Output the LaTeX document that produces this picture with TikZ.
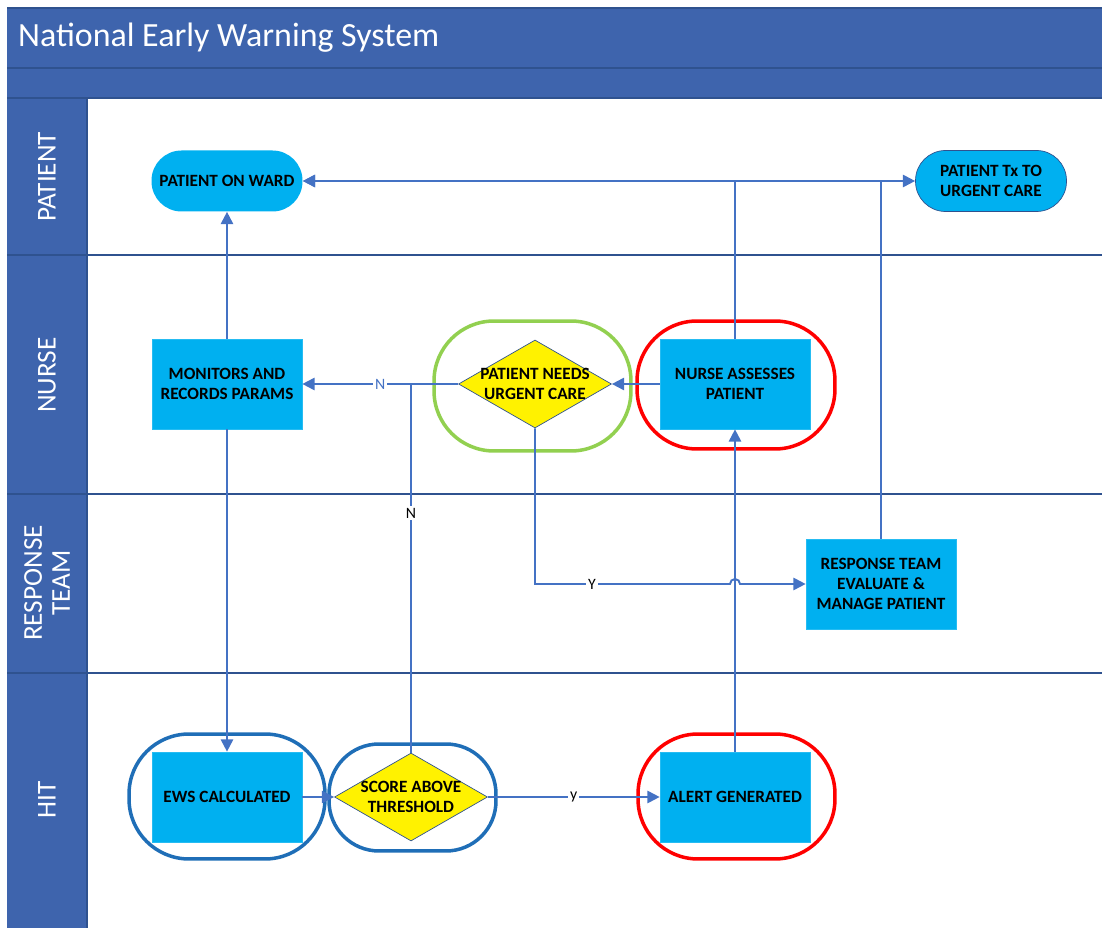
\documentclass[tikz,border=0pt]{standalone}
\usepackage{fontspec}
\setmainfont{Carlito}
\usetikzlibrary{shapes.geometric,arrows.meta,calc}

\definecolor{hdrblue}{RGB}{62,100,173}
\definecolor{lanebord}{RGB}{47,82,143}
\definecolor{cyanbox}{RGB}{0,176,240}
\definecolor{flowblue}{RGB}{68,114,196}
\definecolor{ringblue}{RGB}{31,110,183}
\definecolor{ringgreen}{RGB}{146,208,80}

\tikzset{
  box/.style={draw=cyanbox!85!white, fill=cyanbox, minimum width=3cm, minimum height=1.8cm,
    inner sep=0pt, align=center, font=\bfseries\fontsize{9.8}{11.5}\selectfont},
  pill/.style={box, rounded corners=0.6cm, minimum width=3.02cm, minimum height=1.22cm},
  decide/.style={diamond, draw=lanebord, fill=yellow, minimum width=3.06cm, minimum height=1.76cm,
    inner sep=0pt},
  decidetext/.style={align=center, font=\bfseries\fontsize{9.8}{11.5}\selectfont},
  ring/.style={draw, line width=2pt, rounded corners=1.2cm},
  flow/.style={draw=flowblue, line width=1.1pt, -{Triangle[width=7pt,length=7pt]}},
  flowline/.style={draw=flowblue, line width=1.1pt},
  lbl/.style={fill=white, inner sep=1pt, font=\fontsize{9}{10}\selectfont, text=black},
  lanelbl/.style={rotate=90, text=white, align=center, font=\fontsize{15.5}{16}\selectfont}
}

\begin{document}
\begin{tikzpicture}[x=0.02cm,y=-0.02cm]
\useasboundingbox (0,0) rectangle (1102,928);
% header and swim lanes
\fill[hdrblue] (7,8) rectangle (1102,98);
\fill[hdrblue] (7,98) rectangle (87,928);
\draw[lanebord, line width=1pt] (7,8) -- (1102,8);
\draw[lanebord, line width=1pt] (7,68) -- (1102,68);
\draw[lanebord, line width=1pt] (7,98) -- (1102,98);
\draw[lanebord, line width=1pt] (87,98) -- (87,928);
\draw[lanebord, line width=1pt] (7,255) -- (1102,255);
\draw[lanebord, line width=1pt] (7,494) -- (1102,494);
\draw[lanebord, line width=1pt] (7,673) -- (1102,673);
\node[anchor=west, text=white, font=\fontsize{19.3}{22}\selectfont] (title) at (12,38) {National Early Warning System};
\node[lanelbl] (lpatient) at (47,177) {PATIENT};
\node[lanelbl] (lnurse) at (47,375) {NURSE};
\node[lanelbl] (lresponse) at (47,583) {RESPONSE\\TEAM};
\node[lanelbl] (lhit) at (47,800) {HIT};

% rings
\node[ring, draw=ringgreen, minimum width=3.94cm, minimum height=2.6cm] (needsring) at (532.5,386) {};
\node[ring, draw=red, minimum width=3.96cm, minimum height=2.56cm] (nursering) at (736,385) {};
\node[ring, draw=ringblue, minimum width=3.92cm, minimum height=2.5cm] (ewsring) at (227,796.5) {};
\node[ring, draw=ringblue, rounded corners=1cm, minimum width=3.34cm, minimum height=2.14cm] (scorering) at (412.5,797.5) {};
\node[ring, draw=red, minimum width=3.94cm, minimum height=2.5cm] (alertring) at (736.5,796.5) {};

% steps
\node[pill, draw=none] (ward) at (227,181) {PATIENT ON WARD};
\node[pill, draw=lanebord] (txcare) at (991,181) {PATIENT Tx TO\\URGENT CARE};
\node[box] (monitors) at (227,384) {MONITORS AND\\RECORDS PARAMS};
\node[decide, label={[decidetext]center:PATIENT NEEDS\\URGENT CARE}] (needs) at (535,384) {};
\node[box] (nurse) at (735,384) {NURSE ASSESSES\\PATIENT};
\node[box] (response) at (881,584) {RESPONSE TEAM\\EVALUATE \&\\MANAGE PATIENT};
\node[box] (ews) at (227,797) {EWS CALCULATED};
\node[decide, label={[decidetext]center:SCORE ABOVE\\THRESHOLD}] (score) at (411,797) {};
\node[box] (alert) at (735,797) {ALERT GENERATED};
\coordinate (hop) at (alert.north |- response.west);

% connectors
\draw[flow] (monitors) -- (ward);
\draw[flow] (monitors) -- (ews);
\draw[flow] (ews) -- (score);
\draw[flow] (score) -- node[lbl]{y} (alert);
\draw[flow] (needs) -- node[lbl, text=flowblue]{N} (monitors);
\draw[flowline] (score.north) -- node[lbl, pos=0.65]{N} (score.north |- needs.west);
\draw[flow] (alert) -- (nurse);
\draw[flow] (nurse) -- (needs);
\draw[flow] (nurse.north) |- (ward.east);
\draw[flow] (response.north) |- (ward.east);
\draw[flow] (response.north) |- (txcare.west);
\draw[flow] (needs.south) |- node[lbl, pos=0.646]{Y} ([xshift=-0.1cm]hop)
  arc[start angle=180, end angle=0, radius=0.1cm] -- (response.west);
\end{tikzpicture}
\end{document}
